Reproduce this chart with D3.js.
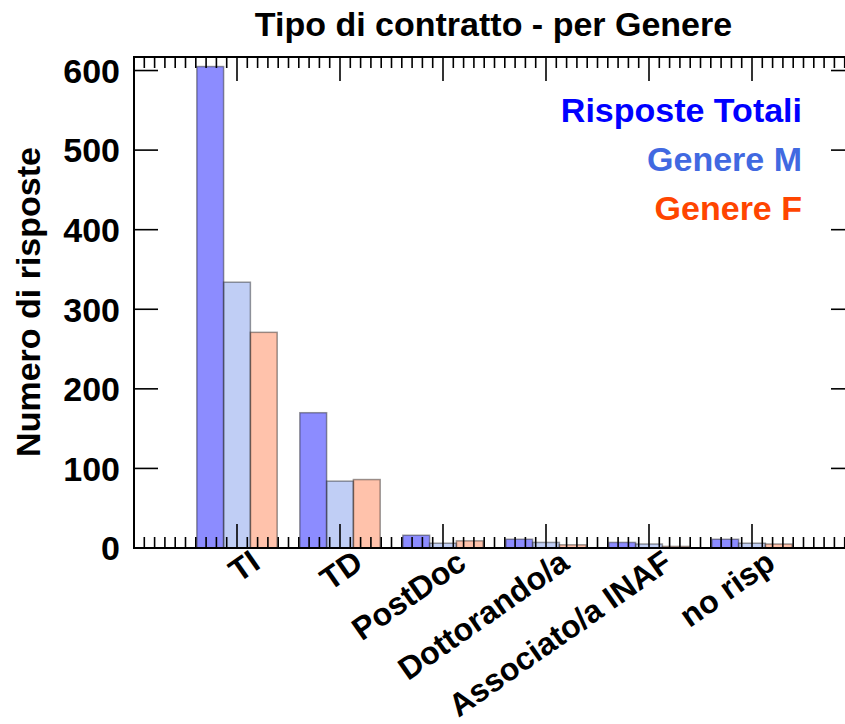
<!DOCTYPE html>
<html>
<head>
<meta charset="utf-8">
<script src="https://cdn.jsdelivr.net/npm/d3@7"></script>
<style>
  html, body { margin: 0; padding: 0; background: #fff; }
  text { font-family: "Liberation Sans", Arial, sans-serif; font-weight: bold; }
</style>
</head>
<body>
<svg id="chart" width="845" height="724"></svg>
<script>
const categories = ["TI", "TD", "PostDoc", "Dottorando/a", "Associato/a INAF", "no risp"];
const totali  = [605, 170, 16, 11, 7, 11];
const genereM = [334, 84, 6, 7, 5, 6];
const genereF = [271, 86, 9, 4, 2, 5];
const yTicks = [0, 100, 200, 300, 400, 500, 600];
const seriesNames = ["Risposte Totali", "Genere M", "Genere F"];
const seriesColors = ["#0000ff", "#4169e1", "#ff4500"];
const seriesOpacity = [0.45, 0.33, 0.33];

const svg = d3.select("#chart");
const pLeft = 134, pRight = 855, pTop = 57, pBottom = 548;
const fs = 34;

const x = d3.scaleLinear().domain([0, categories.length + 1]).range([pLeft, pRight]);
const y = d3.scaleLinear().domain([0, 617]).range([pBottom, pTop]);
const bw = 0.26;

const series = [totali, genereM, genereF];
const offsets = [-1.5 * bw, -0.5 * bw, 0.5 * bw];

const gBars = svg.append("g");
series.forEach((vals, si) => {
  gBars.selectAll(null).data(vals).enter().append("rect")
    .attr("x", (d, i) => x(i + 1 + offsets[si]))
    .attr("width", x(bw) - x(0))
    .attr("y", d => y(d))
    .attr("height", d => y(0) - y(d))
    .attr("fill", seriesColors[si])
    .attr("fill-opacity", seriesOpacity[si])
    .attr("stroke", "#222")
    .attr("stroke-opacity", 0.45)
    .attr("stroke-width", 1.5);
});

// minor/major x ticks, bottom and top
const minor = d3.range(1, (categories.length + 1) * 10).map(i => i / 10);
const gT = svg.append("g").attr("stroke", "#000").attr("stroke-width", 1.6);
minor.forEach(v => {
  const isMajor = Math.abs(v - Math.round(v)) < 1e-6;
  const len = isMajor ? 24 : 11;
  const xx = x(v);
  gT.append("line").attr("x1", xx).attr("x2", xx).attr("y1", pBottom).attr("y2", pBottom - len);
  gT.append("line").attr("x1", xx).attr("x2", xx).attr("y1", pTop).attr("y2", pTop + len);
});
yTicks.forEach(v => {
  gT.append("line").attr("x1", pLeft).attr("x2", pLeft + 24).attr("y1", y(v)).attr("y2", y(v));
  gT.append("line").attr("x1", pRight).attr("x2", pRight - 24).attr("y1", y(v)).attr("y2", y(v));
});

// frame
svg.append("rect").attr("x", pLeft).attr("y", pTop).attr("width", pRight - pLeft).attr("height", pBottom - pTop)
  .attr("fill", "none").attr("stroke", "#000").attr("stroke-width", 2);

// y tick labels
svg.append("g").selectAll("text").data(yTicks).enter().append("text")
  .attr("x", pLeft - 14).attr("y", d => y(d)).attr("dy", "0.36em")
  .attr("text-anchor", "end").attr("font-size", fs).attr("fill", "#000")
  .text(d => d);

// x labels
svg.append("g").selectAll("text").data(categories).enter().append("text")
  .attr("text-anchor", "end").attr("font-size", 32).attr("fill", "#000")
  .attr("transform", (d, i) => `translate(${x(i + 1) + 25},${pBottom + 19}) rotate(-35)`)
  .text(d => d);

// title
svg.append("text").attr("x", (pLeft + pRight) / 2 - 1).attr("y", 36)
  .attr("text-anchor", "middle").attr("font-size", fs).attr("fill", "#000")
  .text("Tipo di contratto - per Genere");

// y axis label
svg.append("text").attr("transform", `translate(40,302) rotate(-90)`)
  .attr("text-anchor", "middle").attr("font-size", fs).attr("fill", "#000")
  .text("Numero di risposte");

// legend
const legendY = [122, 171, 220];
svg.append("g").selectAll("text").data(seriesNames).enter().append("text")
  .attr("x", 802).attr("y", (d, i) => legendY[i])
  .attr("text-anchor", "end").attr("font-size", fs)
  .attr("fill", (d, i) => seriesColors[i])
  .text(d => d);
</script>
</body>
</html>
